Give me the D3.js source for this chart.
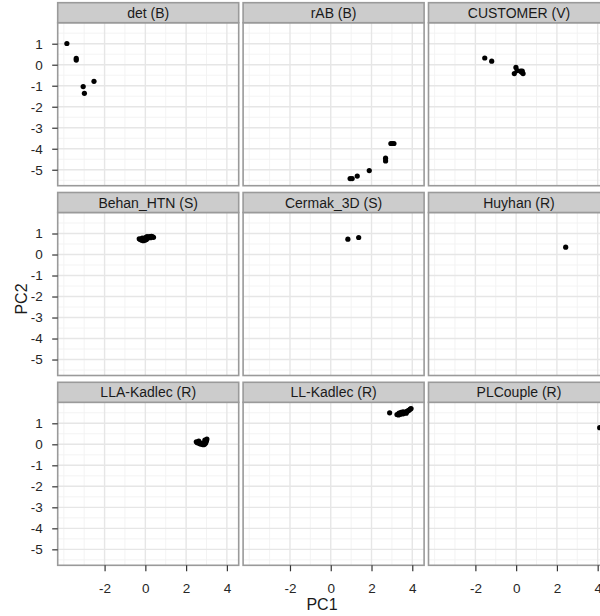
<!DOCTYPE html>
<html>
<head>
<meta charset="utf-8">
<script src="https://cdn.jsdelivr.net/npm/d3@7"></script>
<style>
  html, body { margin: 0; padding: 0; background: #fff; overflow: hidden; }
  svg { display: block; font-family: "Liberation Sans", Arial, sans-serif; }
</style>
</head>
<body>
<script>
// Facet labels, in row-major order (3 x 3 grid)
const facets = [
  "det (B)", "rAB (B)", "CUSTOMER (V)",
  "Behan_HTN (S)", "Cermak_3D (S)", "Huyhan (R)",
  "LLA-Kadlec (R)", "LL-Kadlec (R)", "PLCouple (R)"
];

// First principal component scores per facet
const pc1Values = [
  [-3.85, -3.39, -3.39, -2.52, -3.05, -2.99],
  [0.95, 1.05, 1.30, 1.89, 2.69, 2.69, 2.95, 3.02, 3.10],
  [-1.54, -1.20, -0.01, -0.09, 0.22, 0.34, 0.28, 0.30, 0.05],
  [-0.30, -0.25, -0.18, -0.10, -0.02, 0.05, 0.10, 0.15, 0.22, 0.30, 0.36, 0.40, 0.00, 0.08, -0.15, 0.25],
  [0.84, 1.37],
  [2.43],
  [2.50, 2.55, 2.60, 2.65, 2.70, 2.78, 2.85, 2.90, 2.95, 2.98, 3.00, 3.02, 2.92, 2.62, 2.80],
  [2.89, 3.25, 3.32, 3.40, 3.45, 3.50, 3.55, 3.60, 3.65, 3.70, 3.75, 3.80, 3.85, 3.90, 3.94, 3.45, 3.55, 3.70, 3.35],
  [4.10]
];

// Second principal component scores per facet
const pc2Values = [
  [1.01, 0.30, 0.22, -0.79, -1.04, -1.36],
  [-5.42, -5.42, -5.30, -5.04, -4.45, -4.58, -3.75, -3.75, -3.75],
  [0.32, 0.17, -0.13, -0.42, -0.31, -0.42, -0.36, -0.30, -0.28],
  [0.75, 0.72, 0.68, 0.66, 0.68, 0.72, 0.78, 0.83, 0.85, 0.86, 0.84, 0.82, 0.80, 0.85, 0.78, 0.80],
  [0.73, 0.81],
  [0.35],
  [0.12, 0.08, 0.10, 0.04, 0.02, 0.00, -0.02, 0.00, 0.05, 0.12, 0.18, 0.25, 0.20, 0.15, 0.06],
  [1.50, 1.42, 1.40, 1.43, 1.45, 1.47, 1.45, 1.50, 1.52, 1.55, 1.57, 1.60, 1.63, 1.68, 1.70, 1.52, 1.55, 1.48, 1.48],
  [0.79]
];

// Axis breaks
const xTicks = [-2, 0, 2, 4];
const xMinor = [-4, -3, -1, 1, 3];
const yTicks = [-5, -4, -3, -2, -1, 0, 1];
const yMinor = [-5.5, -4.5, -3.5, -2.5, -1.5, -0.5, 0.5, 1.5, 2];

// Layout
const W = 620, H = 616;
const panelW = 181, panelH = 163, stripH = 20;
const colStep = 185.4, rowStep = 189.8;
const left0 = 57.7, top0 = 22.7;
const nCol = 3, nRow = 3;

const x = d3.scaleLinear().domain([-4.3, 4.58]).range([0, panelW]);
const y = d3.scaleLinear().domain([-5.76, 2.0]).range([panelH, 0]);

// plain hyphen-minus for negative tick labels
const tickFmt = d => String(d);

const svg = d3.select("body").append("svg")
  .attr("width", W).attr("height", H);

const borderCol = "#9a9a9a";
const textCol = "#262626";

facets.forEach((name, i) => {
  const col = i % nCol, row = Math.floor(i / nCol);
  const px = left0 + col * colStep;
  const py = top0 + row * rowStep;
  const g = svg.append("g").attr("transform", `translate(${px},${py})`);

  // panel background
  g.append("rect").attr("width", panelW).attr("height", panelH).attr("fill", "#fff");

  // minor grid
  g.selectAll(".vminor").data(xMinor).enter().append("line")
    .attr("x1", d => x(d)).attr("x2", d => x(d)).attr("y1", 0).attr("y2", panelH)
    .attr("stroke", "#f2f2f2").attr("stroke-width", 0.9);
  g.selectAll(".hminor").data(yMinor.filter(d => y(d) > 0.5)).enter().append("line")
    .attr("y1", d => y(d)).attr("y2", d => y(d)).attr("x1", 0).attr("x2", panelW)
    .attr("stroke", "#f2f2f2").attr("stroke-width", 0.9);

  // major grid
  g.selectAll(".vmajor").data(xTicks).enter().append("line")
    .attr("x1", d => x(d)).attr("x2", d => x(d)).attr("y1", 0).attr("y2", panelH)
    .attr("stroke", "#e6e6e6").attr("stroke-width", 1.4);
  g.selectAll(".hmajor").data(yTicks).enter().append("line")
    .attr("y1", d => y(d)).attr("y2", d => y(d)).attr("x1", 0).attr("x2", panelW)
    .attr("stroke", "#e6e6e6").attr("stroke-width", 1.4);

  // points
  const pts = pc1Values[i].map((v, k) => [v, pc2Values[i][k]]);
  g.selectAll("circle").data(pts).enter().append("circle")
    .attr("cx", d => x(d[0])).attr("cy", d => y(d[1])).attr("r", 2.6)
    .attr("fill", "#000");

  // panel border
  g.append("rect").attr("width", panelW).attr("height", panelH)
    .attr("fill", "none").attr("stroke", borderCol).attr("stroke-width", 1.6);

  // strip
  g.append("rect").attr("y", -stripH).attr("width", panelW).attr("height", stripH)
    .attr("fill", "#cccccc").attr("stroke", borderCol).attr("stroke-width", 1.6);
  g.append("text").attr("x", panelW / 2).attr("y", -stripH / 2).attr("dy", "0.36em")
    .attr("text-anchor", "middle").attr("font-size", 14).attr("fill", "#1a1a1a")
    .text(name);

  // y axis on the first column
  if (col === 0) {
    const ay = g.append("g").call(d3.axisLeft(y).tickValues(yTicks).tickSize(5.5).tickPadding(9.5)
      .tickFormat(tickFmt));
    ay.select(".domain").remove();
    ay.selectAll("line").attr("stroke", "#333").attr("stroke-width", 1.2);
    ay.selectAll("text").attr("font-size", 13.5).attr("fill", textCol)
      .attr("font-family", "Liberation Sans, Arial, sans-serif");
  }
  // x axis on the bottom row
  if (row === nRow - 1) {
    const ax = g.append("g").attr("transform", `translate(0,${panelH})`)
      .call(d3.axisBottom(x).tickValues(xTicks).tickSize(6).tickPadding(12)
        .tickFormat(tickFmt));
    ax.select(".domain").remove();
    ax.selectAll("line").attr("stroke", "#333").attr("stroke-width", 1.2);
    ax.selectAll("text").attr("font-size", 13.5).attr("fill", textCol)
      .attr("font-family", "Liberation Sans, Arial, sans-serif");
  }
});

// axis titles
svg.append("text").attr("x", 322).attr("y", 610).attr("text-anchor", "middle")
  .attr("font-size", 16).attr("fill", "#1a1a1a").text("PC1");
svg.append("text").attr("transform", "translate(26.5,299) rotate(-90)")
  .attr("text-anchor", "middle").attr("font-size", 16).attr("fill", "#1a1a1a").text("PC2");
</script>
</body>
</html>
